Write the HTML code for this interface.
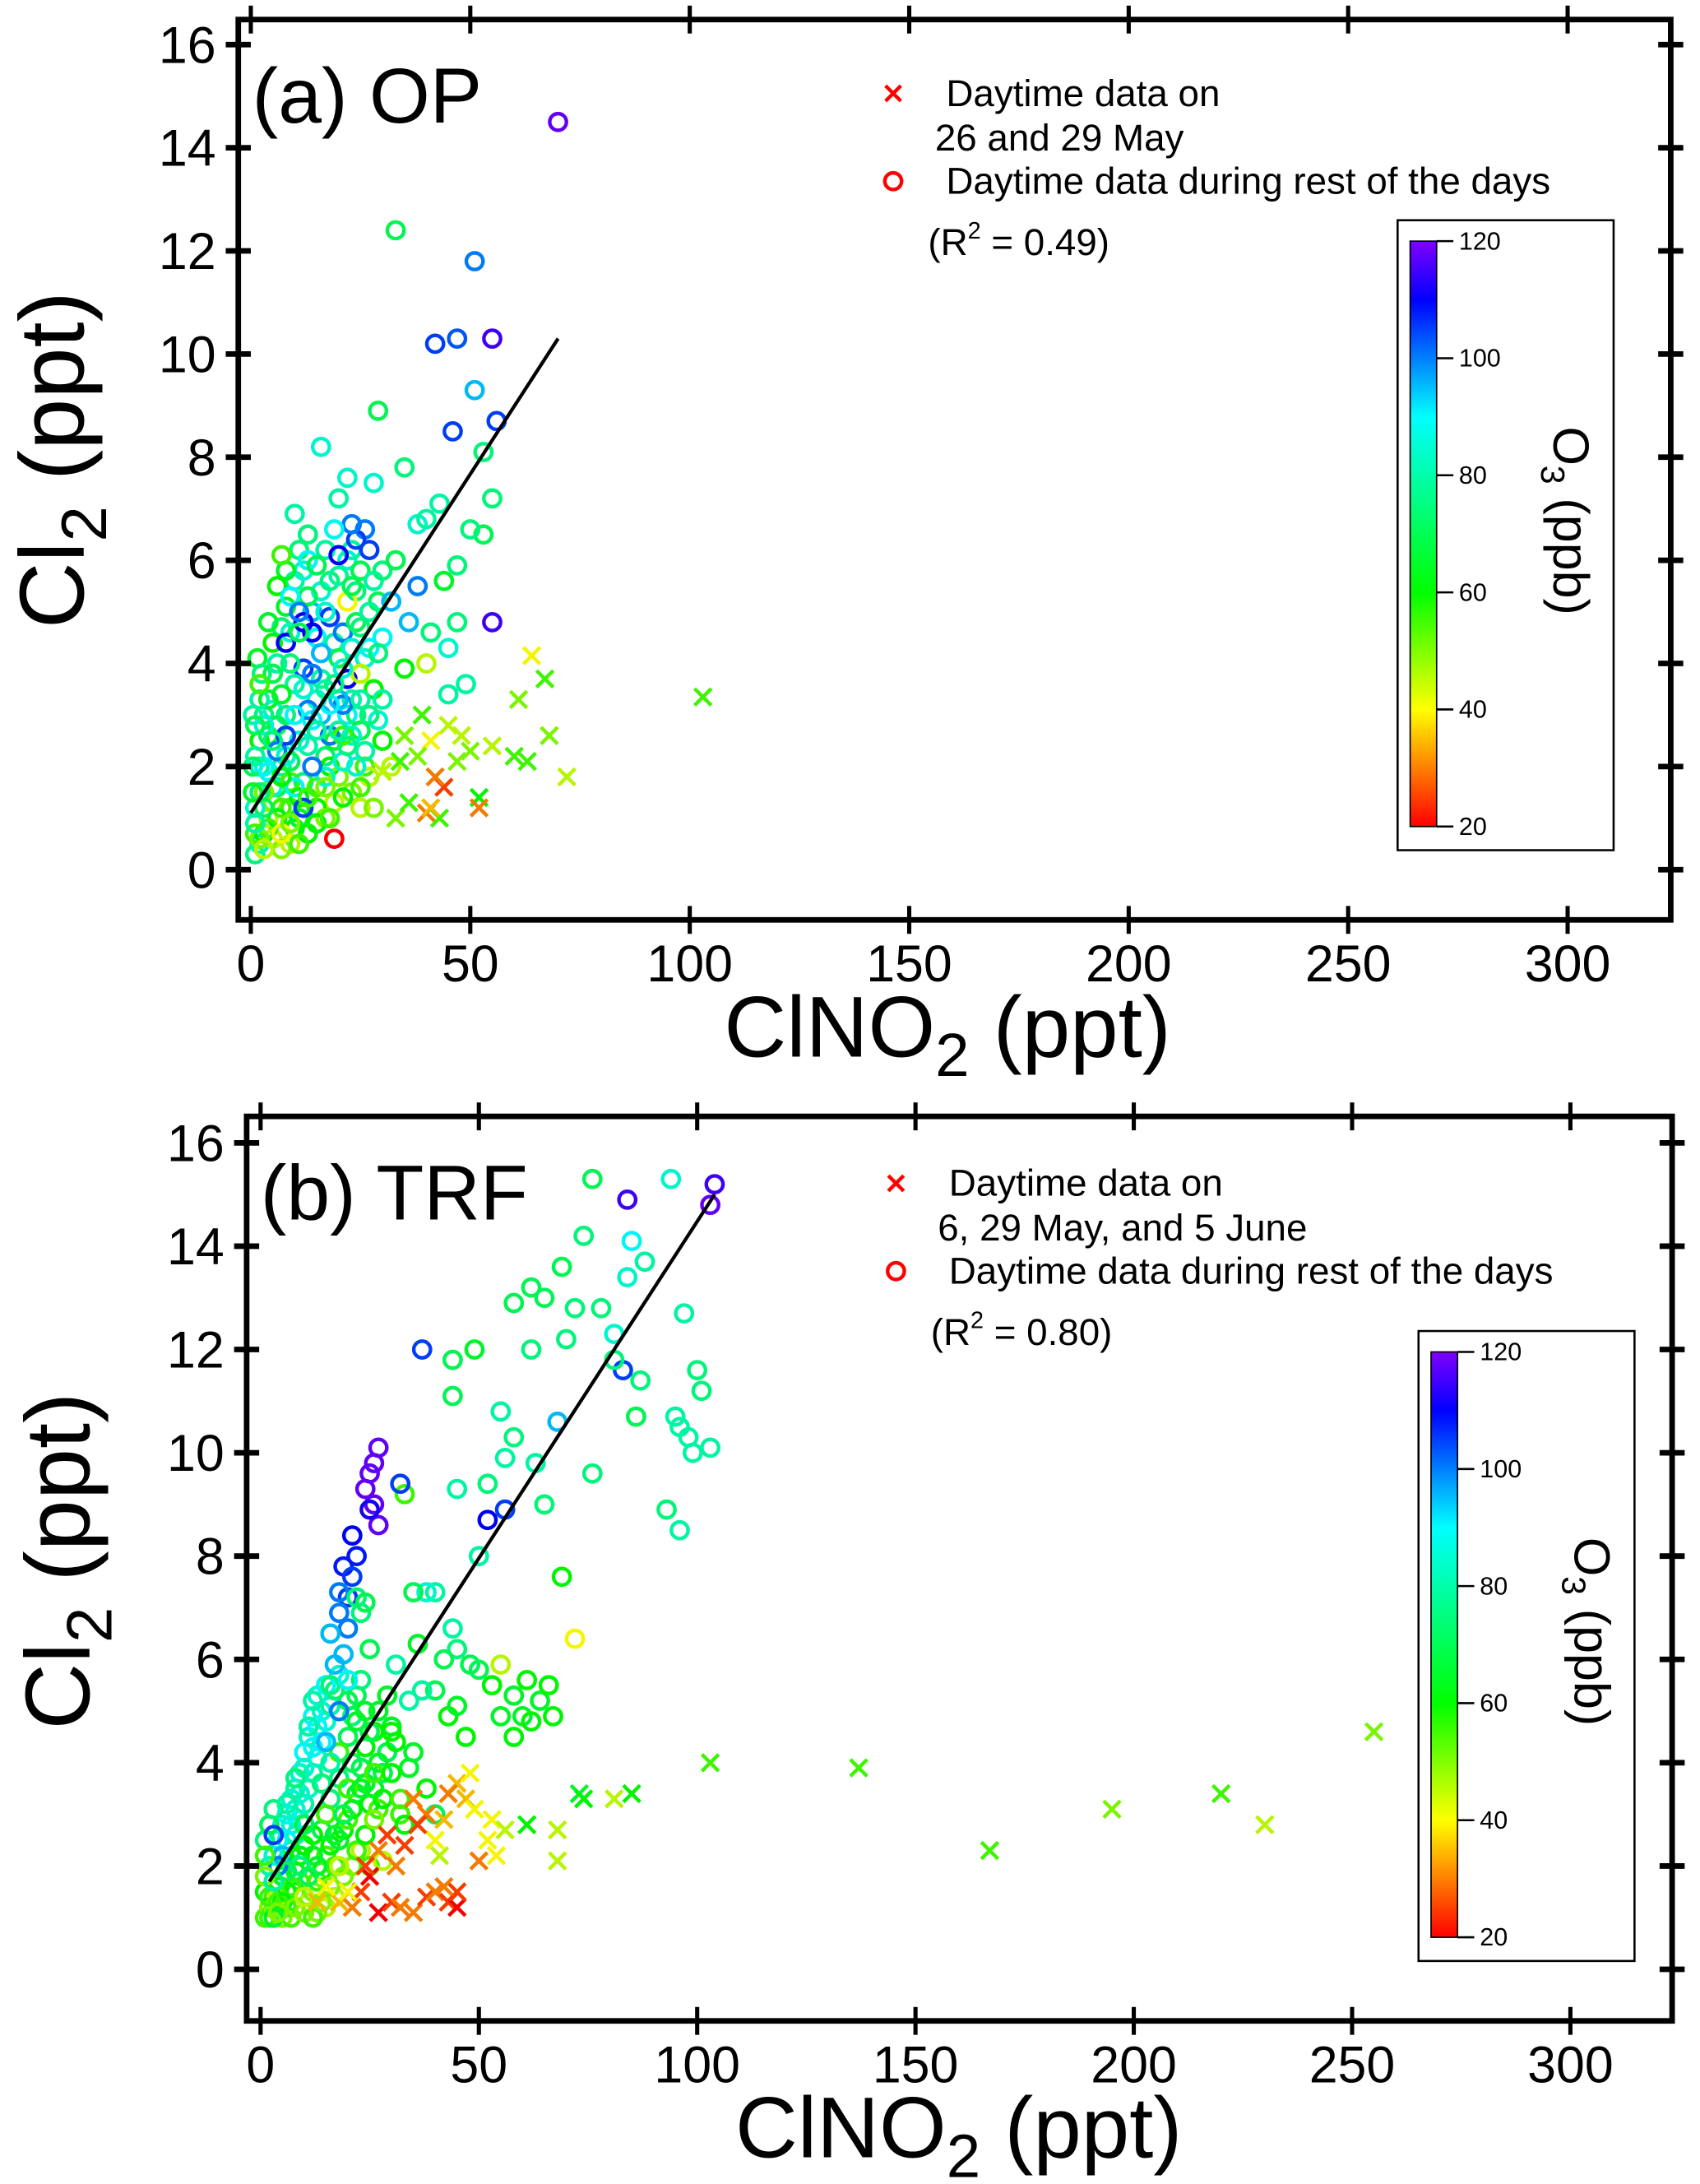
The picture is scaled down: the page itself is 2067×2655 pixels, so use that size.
<!DOCTYPE html>
<html><head><meta charset="utf-8"><style>
html,body{margin:0;padding:0;background:#fff}
svg{display:block}
text{font-family:"Liberation Sans",Arial,sans-serif;fill:#000}
</style></head><body>
<svg id="fig" width="2067" height="2655" viewBox="0 0 1220 1567" xmlns="http://www.w3.org/2000/svg">
<defs>
<linearGradient id="cb" x1="0" y1="1" x2="0" y2="0">
<stop offset="0" stop-color="hsl(0,100%,50%)"/>
<stop offset="0.2" stop-color="hsl(60,100%,50%)"/>
<stop offset="0.4" stop-color="hsl(120,100%,50%)"/>
<stop offset="0.7" stop-color="hsl(180,100%,50%)"/>
<stop offset="0.9" stop-color="hsl(240,100%,50%)"/>
<stop offset="1" stop-color="hsl(270,100%,50%)"/>
</linearGradient>
</defs>
<g id="pa"></g>
<g id="pb"></g>
</svg>
<script>
// Panel a data: ClNO2 (x), Cl2 (y), O3 (colour)
const aCircX=[70,33,51,42,47,55,51,46,56,29,53,16,35,55,43,53,50,47,55,38,40,28,22,20,26,24,27,23,19,10,13,8,6,5,8,12,18,32,38,44,41,45,47,30,49,45,35,40,22,25,2,3,1,2,4,6,8,10,12,14,16,18,20,22,24,26,14,10,12,6,4,2,3,7,9,11,15,19,13,17,21,25,28,30,32,5,7,9,11,13,15,17,20,23,27,29,18,3,1,5,7,9,15,17,21,23,25,7,4,2,1,0.5,9,11,20,33,36];
const aCircY=[14.5,12.4,11.8,10.2,10.3,10.3,9.3,8.5,8.7,8.9,8.1,8.2,7.8,7.2,7.1,6.5,6.6,5.9,4.8,6.7,6.8,7.5,7.6,7.2,6.6,6.4,6.2,6.7,6.6,6.9,6.5,5.8,5.5,4.4,4.4,4.8,4.9,5.2,5.5,5.6,4.6,4.3,4.8,4.5,3.6,3.4,3.9,4.0,5.2,3.8,3.3,2.8,2.2,1.5,1.9,2.3,2.6,3.0,3.5,3.8,4.2,3.2,2.7,2.4,2.0,2.3,2.0,1.6,1.2,1.0,0.8,0.6,0.4,0.7,0.9,0.5,0.9,0.6,1.4,1.6,1.4,1.6,1.2,2.5,2.0,3.8,3.4,4.0,4.6,5.3,5.9,5.0,5.7,5.5,5.0,4.2,1.0,1.2,0.9,2.5,1.8,2.1,2.7,3.5,3.9,4.3,4.7,6.1,4.8,3.6,2.8,1.5,5.3,5.0,6.1,6.0,4.8];
const aCircO=[118,70,100,105,103,115,95,105,105,70,75,85,75,75,80,70,75,75,115,85,80,85,85,80,100,105,105,100,90,80,75,65,60,60,110,110,105,95,100,65,75,85,75,90,80,80,60,45,40,45,80,85,80,75,90,100,105,90,85,100,95,90,80,75,85,80,100,90,105,60,55,50,45,40,50,55,60,20,55,50,60,55,50,60,45,70,65,75,70,70,70,85,80,70,80,75,55,70,80,75,60,70,80,80,85,85,75,55,65,55,70,65,90,100,110,70,95];
const aCircX2=[1,2,3,4,5,6,7,8,9,10,11,12,13,14,15,16,17,18,19,20,21,22,23,24,25,26,27,28,29,30,1,2,3,4,5,6,7,8,9,10,11,12,13,14,15,16,17,18,19,20,21,22,23,24,25,26,27,28,29,30,3,5,7,9,11,13,15,17,19,21,23,25,27,12,14,16,18,20,22,24,8,10,6,4,2,1,3,5,7,9,11,13,15,17,19,21,23,25,0.5,0.5,1.5,2.5];
const aCircY2=[0.3,0.5,0.7,1.0,1.3,1.6,2.0,2.2,1.2,0.8,1.0,1.7,2.4,2.9,3.3,3.7,2.2,2.0,1.3,1.8,2.1,3.0,3.3,3.0,2.7,2.0,1.8,3.5,2.9,3.3,1.2,2.0,3.0,2.6,3.1,4.0,4.7,5.1,4.6,5.6,6.2,5.8,6.0,5.0,4.5,5.4,6.2,5.6,4.4,4.1,4.6,6.0,6.2,5.4,5.8,4.1,4.3,5.6,5.2,5.8,2.0,1.6,1.2,0.5,2.5,3.1,1.2,1.0,2.5,3.2,2.6,3.3,3.0,3.9,4.6,3.0,2.6,3.3,3.7,4.8,3.0,3.6,2.8,3.3,2.5,0.7,1.5,0.6,0.4,1.7,1.4,0.7,1.6,1.8,3.6,2.6,1.5,1.2,2.0,3.0,4.1,3.8];
const aCircO2=[75,80,60,45,50,70,80,85,55,60,65,75,80,90,85,80,75,60,45,50,85,90,80,75,70,55,45,60,85,80,85,80,75,70,85,80,75,65,85,80,75,85,90,95,90,85,80,75,80,70,100,85,80,75,70,85,90,80,70,75,90,85,55,45,85,100,60,50,65,100,85,80,75,105,110,95,100,95,110,70,75,80,70,65,60,55,50,45,50,55,60,60,55,85,75,55,50,45,70,80,65,75];
const aCrossX=[103,64,67,61,60,63,68,72,55,50,52,52,44,42,40,41,38,35,33,36,39,45,47,34,43,30,48,41];
const aCrossY=[3.35,4.15,3.7,3.3,2.2,2.1,2.6,1.8,2.4,2.3,1.4,1.2,1.6,1.8,1.1,2.5,2.2,2.6,1.0,1.3,3.0,2.8,2.1,2.1,1.0,1.9,2.6,1.2];
const aCrossO=[55,40,55,50,55,55,50,45,45,50,60,30,25,30,30,40,50,50,50,55,55,45,50,55,55,45,45,35];
const aFitX=[0,70], aFitY=[1.1,10.3];
// Panel b data
const bCircX=[104,103,94,76,84,85,84,88,74,62,58,65,69,72,78,81,83,37,62,70,81,87,97,100,101,103,98,99,96,95,93,96,86,76,63,68,58,55,56,52,56,52,65,44,44,49,45,50,40,38,33,32,35,45,44,48,50,55,60,62,58,53,55,58,61,64,66,67,69,72,47,43,40,37,34,30,42,35,38,40,36,45,27,26,25,24,26,27,25,21,22,19,21,20,18,18,20,19,17,16,22,23,24,25,15,14,13,12,10,9,8,7,6,5,4,3,11,12,16,20,22,24,26,28,30,32,18,20,15,12,9,7,5,3,2,1,1,4,8,10,12,14,16,18,22,24,26,28,6,8,10,14,16,13,17,19,21,23,25,27,29,31,15,18,20,9,11,3,6];
const bCircY=[15.2,14.8,15.3,15.3,14.9,14.1,13.4,13.7,14.2,13.2,12.9,13.0,13.6,12.8,12.8,12.3,11.6,12.0,12.0,12.2,11.8,11.4,12.7,11.6,11.2,10.1,10.3,10.0,10.5,10.7,8.9,8.5,10.7,9.6,9.8,10.6,10.3,10.8,9.9,9.4,8.9,8.7,9.0,11.8,11.1,12.0,9.3,8.0,7.3,7.3,9.2,9.4,7.3,6.2,6.6,5.9,5.8,5.9,4.9,4.8,5.3,5.5,4.9,4.5,5.6,5.2,5.5,4.9,7.6,6.4,4.5,4.9,5.4,5.4,5.2,4.6,6.0,4.2,3.5,3.0,6.3,5.1,10.1,9.8,9.6,9.3,9.0,8.6,8.9,8.4,8.0,7.8,7.6,7.2,7.3,6.9,6.6,6.1,5.9,6.5,7.2,6.9,7.1,6.2,5.5,5.0,4.7,4.3,3.9,3.4,3.1,2.8,2.5,2.2,2.0,2.6,4.7,5.2,5.5,5.2,4.8,4.3,3.8,3.3,3.8,3.3,4.2,3.5,3.0,2.6,2.2,1.6,1.3,1.0,1.4,1.8,2.2,1.1,1.2,1.4,1.0,1.3,1.6,2.0,2.3,2.6,2.9,2.1,3.2,3.7,2.8,3.6,4.0,2.0,2.6,3.0,4.0,3.5,4.6,5.0,5.3,5.9,4.4,5.0,5.6,2.0,1.8,1.7,1.9];
const bCircO=[115,118,85,70,115,90,85,80,75,70,70,70,70,75,75,85,105,105,75,75,75,75,80,75,75,80,80,80,80,80,75,80,70,75,80,95,75,80,80,75,105,110,75,70,70,65,80,80,80,85,55,105,70,75,80,70,70,45,65,60,65,60,65,60,60,65,60,60,60,40,60,60,70,80,80,60,70,65,60,70,65,65,118,118,118,118,118,118,112,110,108,108,105,105,100,100,100,95,95,95,75,75,70,70,90,85,90,90,85,85,85,85,90,95,100,105,80,80,75,70,65,60,55,60,60,55,55,55,55,60,60,55,60,65,55,50,55,50,50,45,55,50,50,45,55,60,50,45,80,75,70,75,80,65,65,70,70,65,70,65,65,80,95,100,90,75,70,80,70];
const bCircX2=[1,2,3,4,5,6,7,8,9,10,11,12,13,14,15,16,17,18,1,2,3,4,5,6,7,8,9,10,11,12,13,14,15,16,17,18,19,20,21,22,23,24,25,26,27,28,29,30,31,32,33,34,2,3,4,5,6,7,8,9,10,11,12,13,1,2,3,20,21,22,23,24,26,27,14,16,18,12,10,8,6,4,17,19,21,23,25,15,13];
const bCircY2=[1.0,1.2,1.4,1.6,1.8,2.1,2.3,2.6,2.9,3.2,3.5,3.8,4.1,4.4,4.8,5.1,5.4,5.7,1.5,1.0,1.2,1.4,1.0,1.2,1.0,1.5,1.7,1.1,1.3,1.5,1.7,1.9,2.2,2.4,2.0,2.5,2.7,2.9,3.1,3.4,3.9,3.6,3.2,3.5,3.1,3.8,4.2,4.7,4.4,3.0,2.8,3.9,2.0,2.2,2.5,2.8,3.0,3.3,3.5,3.8,4.2,4.5,4.9,5.3,2.5,2.8,3.1,4.5,4.9,5.3,5.6,5.0,4.6,4.0,2.7,3.3,3.7,2.2,2.4,1.9,1.5,1.3,1.4,1.8,2.0,2.3,2.0,1.2,1.1];
const bCircO2=[55,50,55,60,65,70,75,80,85,80,85,80,85,90,85,80,75,85,60,55,50,45,50,55,55,60,55,50,45,50,55,60,55,60,55,65,60,55,60,65,70,65,60,65,55,70,70,65,60,55,60,65,80,85,90,85,90,85,80,85,90,85,90,85,75,70,75,70,75,70,75,65,60,65,70,75,75,65,60,65,60,55,45,50,50,45,55,45,50];
const bCrossX=[255,230,220,195,167,137,103,85,73,74,61,68,68,81,50,53,52,45,43,42,40,38,36,35,33,31,29,27,25,23,21,18,15,13,27,30,32,35,38,40,43,45,45,47,49,48,41,56,54,24,20,42];
const bCrossY=[4.6,2.8,3.4,3.1,2.3,3.9,4.0,3.4,3.4,3.3,2.8,2.7,2.1,3.3,2.1,2.9,2.5,3.6,3.4,2.9,2.5,3.0,2.8,3.3,2.4,2.0,2.6,2.3,1.8,1.5,1.2,1.3,1.6,1.3,1.1,1.3,1.2,1.1,1.4,1.5,1.3,1.2,1.5,3.3,3.1,3.8,2.2,2.7,2.2,2.0,1.5,1.6];
const bCrossO=[50,45,55,50,55,55,55,60,65,60,60,45,45,45,30,40,40,35,30,35,40,30,25,30,25,30,25,30,20,25,30,35,40,35,20,25,30,30,25,30,25,20,25,35,40,40,45,45,40,25,40,30];
const bFitX=[2,104], bFitY=[1.7,15.0];
const yTicks=[0,2,4,6,8,10,12,14,16];
const xTicks=[0,50,100,150,200,250,300];
const cbTicks=[20,40,60,80,100,120];

const NS='http://www.w3.org/2000/svg';
function mk(parent,tag,attrs,txt){const e=document.createElementNS(NS,tag);for(const k in attrs)e.setAttribute(k,attrs[k]);if(txt!==undefined)e.textContent=txt;parent.appendChild(e);return e;}
const hs=[[20,0],[40,60],[60,120],[90,180],[110,240],[120,270]];
function col(v){v=Math.max(20,Math.min(120,v));for(let i=1;i<hs.length;i++){if(v<=hs[i][0]){const t=(v-hs[i-1][0])/(hs[i][0]-hs[i-1][0]);return 'hsl('+(hs[i-1][1]+t*(hs[i][1]-hs[i-1][1]))+',100%,48%)';}}return 'hsl(270,100%,50%)';}

function panel(g,P){
  const X=v=>P.x0+v*(P.x300-P.x0)/300, Y=v=>P.y0-v*(P.y0-P.y16)/16;
  const pts=mk(g,'g',{});
  
  
  for(let i=0;i<P.cx.length;i++){
    const c=mk(pts,'circle',{cx:X(P.cx[i]),cy:Y(P.cy[i]),r:6,fill:'none',stroke:col(P.co[i]),'stroke-width':2.6});
    
    
  }
  const crs=mk(g,'g',{});
  
  
  for(let i=0;i<P.kx.length;i++){
    const x=X(P.kx[i]),y=Y(P.ky[i]),s=6;
    const p=mk(crs,'path',{d:`M${x-s},${y-s}L${x+s},${y+s}M${x-s},${y+s}L${x+s},${y-s}`,stroke:col(P.ko[i]),'stroke-width':2.6,fill:'none'});
    
    
  }
  const fl=mk(g,'line',{x1:X(P.fx[0]),y1:Y(P.fy[0]),x2:X(P.fx[1]),y2:Y(P.fy[1]),stroke:'#000','stroke-width':2.5});
  
  
  const fr=mk(g,'rect',{x:P.L,y:P.T,width:P.R-P.L,height:P.B-P.T,fill:'none',stroke:'#000','stroke-width':4});
  
  
  const ax=mk(g,'g',{});
  
  
  yTicks.forEach(v=>{const y=Y(v);
    mk(ax,'line',{x1:P.L-9,x2:P.L+9,y1:y,y2:y,stroke:'#000','stroke-width':4});
    mk(ax,'line',{x1:P.R-9,x2:P.R+9,y1:y,y2:y,stroke:'#000','stroke-width':4});
    const t=mk(ax,'text',{x:P.L-16,y:y+13,'font-size':37,'text-anchor':'end'},String(v));
    
    
  });
  xTicks.forEach(v=>{const x=X(v);
    mk(ax,'line',{x1:x,x2:x,y1:P.B-10,y2:P.B+10,stroke:'#000','stroke-width':3});
    mk(ax,'line',{x1:x,x2:x,y1:P.T-10,y2:P.T+10,stroke:'#000','stroke-width':3});
    const t=mk(ax,'text',{x:x,y:P.B+44,'font-size':37,'text-anchor':'middle'},String(v));
    
    
  });
  const cb=mk(g,'g',{});
  
  
  mk(cb,'rect',{x:P.cbx,y:P.cby,width:155,height:452,fill:'#fff',stroke:'#000','stroke-width':1.5});
  const bt=P.cby+15,bb=P.cby+435;
  mk(cb,'rect',{x:P.cbx+9,y:bt,width:19,height:bb-bt,fill:'url(#cb)',stroke:'#000','stroke-width':1});
  cbTicks.forEach(v=>{const y=bb-(v-20)/100*(bb-bt);
    mk(cb,'line',{x1:P.cbx+28,x2:P.cbx+40,y1:y,y2:y,stroke:'#000','stroke-width':1.5});
    const t=mk(cb,'text',{x:P.cbx+44,y:y+6,'font-size':18},String(v));
    
    
  });
  const ct=mk(cb,'text',{transform:`translate(${P.cbx+112},${P.cby+148}) rotate(90)`,'font-size':36},'');
  ct.innerHTML='O<tspan font-size="24" dy="9">3</tspan><tspan dy="-9"> (ppb)</tspan>';
  
  
  const pl=mk(g,'text',{x:P.L+10,y:P.T+74,'font-size':56},P.label);
  
  
  const xt=mk(g,'text',{x:P.xtx,y:P.B+98,'font-size':62,'text-anchor':'middle'},'');
  xt.innerHTML='ClNO<tspan font-size="44" dy="14">2</tspan><tspan dy="-14"> (ppt)</tspan>';
  
  
  const yt=mk(g,'text',{transform:`translate(${P.ytx},${P.yty}) rotate(-90)`,'font-size':66,'text-anchor':'middle'},'');
  yt.innerHTML='Cl<tspan font-size="46" dy="16">2</tspan><tspan dy="-16"> (ppt)</tspan>';
  
  
  const lg=mk(g,'g',{});
  
  
  const lx=P.lx,ly=P.ly,s=5.5;
  mk(lg,'path',{d:`M${lx-s},${ly-s}L${lx+s},${ly+s}M${lx-s},${ly+s}L${lx+s},${ly-s}`,stroke:'#f00','stroke-width':2.6});
  mk(lg,'text',{x:lx+38,y:ly+9,'font-size':27},'Daytime data on');
  mk(lg,'text',{x:lx+30,y:ly+41,'font-size':27},P.leg2);
  mk(lg,'circle',{cx:lx,cy:ly+63,r:6,fill:'none',stroke:'#f00','stroke-width':2.6});
  mk(lg,'text',{x:lx+38,y:ly+72,'font-size':27},'Daytime data during rest of the days');
  const r=mk(lg,'text',{x:lx+25,y:ly+116,'font-size':27},'');
  r.innerHTML='(R<tspan font-size="17" dy="-12">2</tspan><tspan dy="12"> = '+P.r2+')</tspan>';
}
panel(document.getElementById('pa'),{x0:180,x300:1125,y0:624,y16:32,L:171,R:1199,T:14,B:660,
  cx:aCircX2.concat(aCircX),cy:aCircY2.concat(aCircY),co:aCircO2.concat(aCircO),kx:aCrossX,ky:aCrossY,ko:aCrossO,fx:aFitX,fy:aFitY,
  cbx:1003,cby:158,label:'(a) OP',xtx:680,ytx:60,yty:330,lx:641,ly:67,leg2:'26 and 29 May',r2:'0.49'});
panel(document.getElementById('pb'),{x0:187,x300:1127,y0:1413,y16:820,L:177,R:1200,T:801,B:1450,
  cx:bCircX2.concat(bCircX),cy:bCircY2.concat(bCircY),co:bCircO2.concat(bCircO),kx:bCrossX,ky:bCrossY,ko:bCrossO,fx:bFitX,fy:bFitY,
  cbx:1018,cby:955,label:'(b) TRF',xtx:688,ytx:64,yty:1120,lx:643,ly:849,leg2:'6, 29 May, and 5 June',r2:'0.80'});
</script>
</body></html>
